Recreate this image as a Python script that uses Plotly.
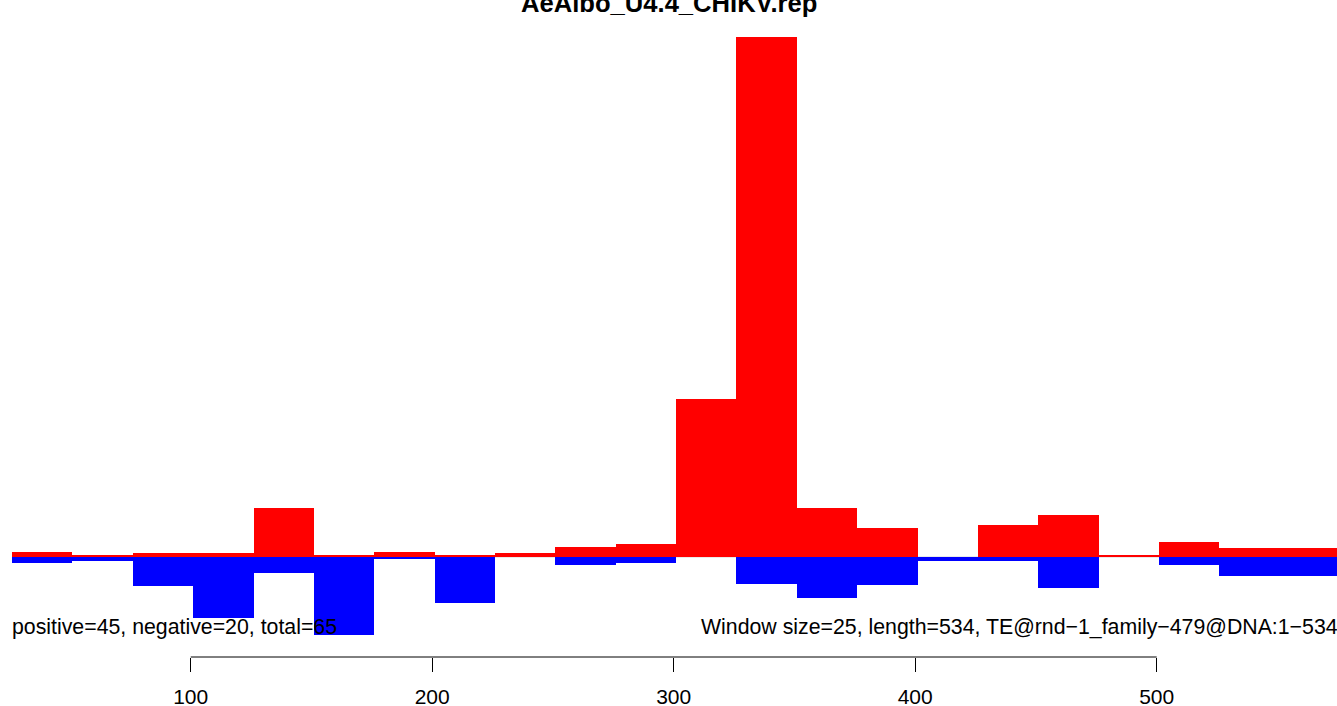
import plotly.graph_objects as go

# ---- data ----
title_text = "AeAlbo_U4.4_CHIKV.rep"
window_size = 25
window_starts = [26, 51, 76, 101, 126, 151, 176, 201, 226, 251, 276,
                 301, 326, 351, 376, 401, 426, 451, 476, 501, 526, 551]
positive = [4.7, 2, 4, 4, 49, 1.5, 4.7, 1.5, 4, 10, 13,
            158, 520, 49, 29, 0, 32, 42, 1.5, 15, 9, 9]
negative = [6, 4, 29, 61, 16, 78, 2, 46, 0, 8, 6,
            0, 27, 41, 28, 4, 4, 31, 0, 8, 19, 19]
tick_values = [100, 200, 300, 400, 500]
left_note = "positive=45, negative=20, total=65"
right_note = "Window size=25, length=534, TE@rnd\u22121_family\u2212479@DNA:1\u2212534"

FONT = "Liberation Sans, Arial, Helvetica, sans-serif"

fig = go.Figure()
fig.add_trace(go.Bar(
    x=window_starts, y=positive, width=window_size, offset=0,
    marker=dict(color="#FF0000", line=dict(width=0)), hoverinfo="skip"))
fig.add_trace(go.Bar(
    x=window_starts, y=[-v for v in negative], width=window_size, offset=0,
    marker=dict(color="#0000FF", line=dict(width=0)), hoverinfo="skip"))

# thin baseline
fig.add_shape(type="line", xref="x", yref="y",
              x0=window_starts[0], x1=window_starts[-1] + window_size, y0=0, y1=0,
              line=dict(color="#BBBBBB", width=0.6), layer="below")
# R-style axis line spanning the ticks only
fig.add_shape(type="line", xref="x", yref="paper",
              x0=tick_values[0], x1=tick_values[-1], y0=0, y1=0,
              line=dict(color="black", width=1))

fig.add_annotation(x=window_starts[0], y=-70, xref="x", yref="y", xshift=-2,
                   text=left_note, showarrow=False, xanchor="left", yanchor="middle",
                   font=dict(family=FONT, size=21.3, color="black"))
fig.add_annotation(x=1.0, y=-70, xref="paper", yref="y", xshift=3,
                   text=right_note, showarrow=False, xanchor="right", yanchor="middle",
                   font=dict(family=FONT, size=21.3, color="black"))
fig.add_annotation(x=0.5, y=1.0272, xref="paper", yref="paper",
                   text="<b>" + title_text + "</b>", showarrow=False,
                   xanchor="center", yanchor="middle",
                   font=dict(family=FONT, size=25.6, color="black"))

fig.update_layout(
    width=1337, height=706,
    margin=dict(l=0, r=0, t=20, b=49, autoexpand=False),
    plot_bgcolor="white", paper_bgcolor="white",
    showlegend=False, barmode="overlay", bargap=0,
    font=dict(family=FONT, color="black"),
)
fig.update_xaxes(range=[21.03, 574.66], tickvals=tick_values,
                 ticktext=[str(v) for v in tick_values],
                 ticks="outside", ticklen=14, tickwidth=1, tickcolor="black",
                 showgrid=False, zeroline=False, showline=False, automargin=False,
                 tickfont=dict(family=FONT, size=21, color="black"),
                 ticklabelstandoff=7)
fig.update_yaxes(range=[-100, 537], visible=False, showgrid=False, zeroline=False,
                 automargin=False)

fig.write_html("out.html",
               config={"displayModeBar": False},
               post_script="document.body.style.margin='0';document.body.style.overflow='hidden';")
